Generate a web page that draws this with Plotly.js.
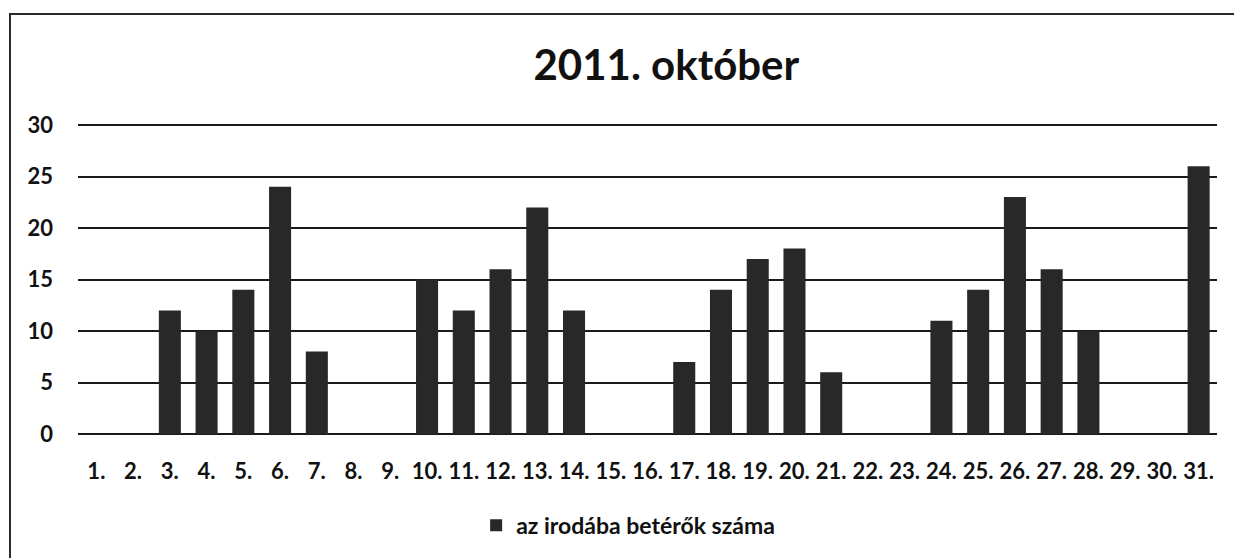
<!DOCTYPE html>
<html>
<head>
<meta charset="utf-8">
<script src="https://cdn.plot.ly/plotly-3.0.1.min.js"></script>
<style>
  html, body { margin: 0; padding: 0; background: #fff; }
  #chart { position: absolute; left: 0; top: 0; width: 1234px; height: 558px; }
  #frame {
    position: absolute; left: 9px; top: 13px; width: 1240px; height: 560px;
    border-left: 2px solid #2b2b2b; border-top: 2px solid #2b2b2b;
    pointer-events: none;
  }
</style>
</head>
<body>
<div id="chart"></div>
<div id="frame"></div>
<script>
// napok (kategóriák)
const days = ['1.', '2.', '3.', '4.', '5.', '6.', '7.', '8.', '9.', '10.',
  '11.', '12.', '13.', '14.', '15.', '16.', '17.', '18.', '19.', '20.',
  '21.', '22.', '23.', '24.', '25.', '26.', '27.', '28.', '29.', '30.', '31.'];

// az irodába betérők száma
const visitors = [0, 0, 12, 10, 14, 24, 8, 0, 0, 15,
  12, 16, 22, 12, 0, 0, 7, 14, 17, 18,
  6, 0, 0, 11, 14, 23, 16, 10, 0, 0, 26];

const yTicks = [0, 5, 10, 15, 20, 25, 30];

const seriesName = 'az irodába betérők száma';
const chartTitle = '2011. október';

const font = 'Lato, Calibri, "Open Sans", sans-serif';

const trace = {
  type: 'bar',
  x: days,
  y: visitors,
  name: seriesName,
  marker: { color: '#282828', line: { width: 0 } },
  showlegend: true,
  hoverinfo: 'x+y'
};

const layout = {
  width: 1234,
  height: 558,
  margin: { l: 78, r: 17, t: 124, b: 123 },
  paper_bgcolor: '#ffffff',
  plot_bgcolor: '#ffffff',
  font: { family: font, color: '#111', size: 22 },
  title: {
    text: '<b>' + chartTitle + '</b>',
    font: { family: font, size: 42, color: '#111' },
    xref: 'container', x: 0.54, xanchor: 'center',
    yref: 'container', y: 0.883, yanchor: 'middle'
  },
  bargap: 0.4,
  xaxis: {
    type: 'category',
    tickvals: days,
    ticktext: days.map(d => '<b>' + d + '</b>'),
    showgrid: false,
    showline: false,
    ticks: '',
    ticklabelstandoff: 22,
    tickfont: { size: 22, color: '#111' },
    fixedrange: true
  },
  yaxis: {
    range: [0, 30.1],
    tickvals: yTicks,
    ticktext: yTicks.map(v => '<b>' + v + '</b>'),
    showgrid: true,
    gridcolor: '#1a1a1a',
    gridwidth: 2,
    zeroline: true,
    zerolinecolor: '#1a1a1a',
    zerolinewidth: 2,
    showline: false,
    ticks: '',
    ticklabelstandoff: 24,
    tickfont: { size: 22, color: '#111' },
    fixedrange: true
  },
  showlegend: true,
  legend: {
    orientation: 'h',
    x: 0.483, xanchor: 'center',
    y: -0.29, yanchor: 'middle',
    font: { size: 23, color: '#111', weight: 'bold' },
    itemwidth: 30
  }
};

Plotly.newPlot('chart', [trace], layout, { displayModeBar: false, staticPlot: true });
</script>
</body>
</html>
